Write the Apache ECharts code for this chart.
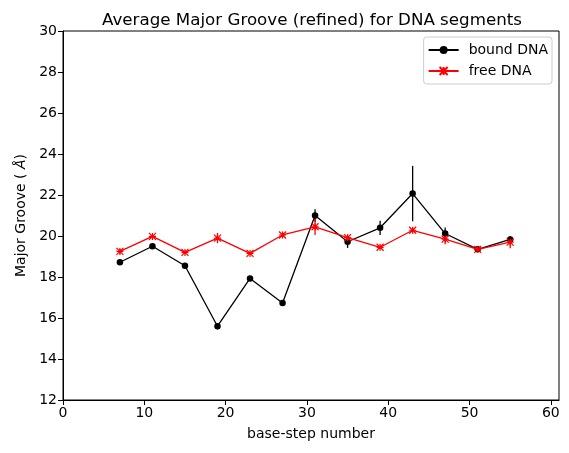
<!DOCTYPE html>
<html><head><meta charset="utf-8">
<script src="https://cdn.jsdelivr.net/npm/echarts@6/dist/echarts.min.js"></script>
<style>html,body{margin:0;padding:0;background:#fff}#c{width:569px;height:453px}</style>
</head><body><div id="c"></div>
<script>
const baseSteps = [7, 11, 15, 19, 23, 27, 31, 35, 39, 43, 47, 51, 55];
const boundDNA = [18.72, 19.5, 18.55, 15.6, 17.93, 16.73, 21.0, 19.72, 20.4, 22.07, 20.12, 19.35, 19.83];
const boundErr = [0.1, 0.1, 0.1, 0.15, 0.1, 0.1, 0.3, 0.3, 0.35, 1.35, 0.3, 0.1, 0.15];
const freeDNA = [19.25, 19.98, 19.2, 19.9, 19.15, 20.05, 20.45, 19.92, 19.45, 20.28, 19.85, 19.35, 19.7];
const freeErr = [0.12, 0.08, 0.08, 0.25, 0.08, 0.08, 0.4, 0.15, 0.08, 0.1, 0.25, 0.08, 0.3];
const xTicks = [0, 10, 20, 30, 40, 50, 60];

const FONT = 'DejaVu Sans';
const chart = echarts.init(document.getElementById('c'), null, {renderer: 'canvas'});

function errSeries(name, xs, ys, es, color) {
  return {
    type: 'custom', name: name, z: 1, silent: true,
    data: xs.map((x, i) => [x, ys[i], es[i]]),
    renderItem: function (params, api) {
      const x = api.value(0), y = api.value(1), e = api.value(2);
      const p1 = api.coord([x, y - e]);
      const p2 = api.coord([x, y + e]);
      return {type: 'line', shape: {x1: p1[0], y1: p1[1], x2: p2[0], y2: p2[1]},
        style: {stroke: color, lineWidth: 1.3}};
    }
  };
}

const xMarker = 'path://M0,0 L10,10 M10,0 L0,10 M5,0 L5,10 M0,5 L10,5';

chart.setOption({
  animation: false,
  title: {
    text: 'Average Major Groove (refined) for DNA segments',
    left: 307, top: 7, textAlign: 'center',
    textStyle: {fontFamily: FONT, fontSize: 16.7, fontWeight: 'normal', color: '#000'}
  },
  legend: {
    right: 17, top: 37, orient: 'vertical',
    itemWidth: 30, itemHeight: 10, itemGap: 7,
    padding: [6, 4, 6, 4],
    borderColor: '#ccc', borderWidth: 1, borderRadius: 3,
    textStyle: {fontFamily: FONT, fontSize: 14, color: '#000', padding: [0, 0, 0, 5]},
    data: ['bound DNA', 'free DNA']
  },
  grid: {left: 63, right: 10, top: 31, bottom: 53, show: true, borderColor: '#000', borderWidth: 1, backgroundColor: 'transparent'},
  xAxis: {
    type: 'value', min: 0, max: 61, interval: 10,
    name: 'base-step number', nameLocation: 'middle', nameGap: 27,
    nameTextStyle: {fontFamily: FONT, fontSize: 14, color: '#000'},
    axisLine: {show: true, onZero: false, lineStyle: {color: '#000'}},
    axisTick: {show: true, length: 5, lineStyle: {color: '#000'}, customValues: xTicks},
    axisLabel: {fontFamily: FONT, fontSize: 14, color: '#000', margin: 6, customValues: xTicks},
    splitLine: {show: false}
  },
  yAxis: {
    type: 'value', min: 12, max: 30, interval: 2,
    name: '{a|Major Groove ( }{b|Å}{a|)}', nameLocation: 'middle', nameGap: 35,
    nameTextStyle: {rich: {
      a: {fontFamily: FONT, fontSize: 14, color: '#000'},
      b: {fontFamily: FONT, fontSize: 14, color: '#000', fontStyle: 'italic'}
    }},
    axisLine: {show: true, lineStyle: {color: '#000'}},
    axisTick: {show: true, length: 5, lineStyle: {color: '#000'}},
    axisLabel: {fontFamily: FONT, fontSize: 14, color: '#000', margin: 6},
    splitLine: {show: false}
  },
  series: [
    errSeries('bound DNA err', baseSteps, boundDNA, boundErr, '#000'),
    errSeries('free DNA err', baseSteps, freeDNA, freeErr, '#ff0000'),
    {
      name: 'bound DNA', type: 'line', z: 3,
      data: baseSteps.map((x, i) => [x, boundDNA[i]]),
      symbol: 'circle', symbolSize: 6.5,
      lineStyle: {color: '#000', width: 1.3},
      itemStyle: {color: '#000', borderWidth: 0}
    },
    {
      name: 'free DNA', type: 'line', z: 4,
      data: baseSteps.map((x, i) => [x, freeDNA[i]]),
      symbol: xMarker, symbolSize: 7,
      lineStyle: {color: '#ff0000', width: 1.3},
      itemStyle: {color: '#ff0000', borderColor: '#ff0000', borderWidth: 1.2}
    }
  ]
});
</script></body></html>
